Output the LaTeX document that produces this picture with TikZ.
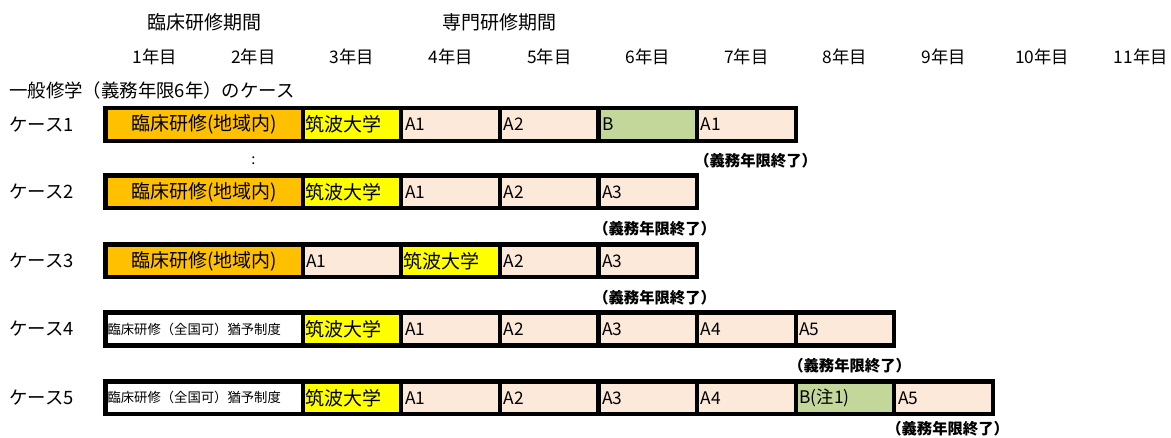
\documentclass[tikz,border=0pt]{standalone}
\usepackage{fontspec}
\setmainfont{Noto Sans CJK JP}
\definecolor{cOrange}{HTML}{FFC000}
\definecolor{cYellow}{HTML}{FFFF00}
\definecolor{cPeach}{HTML}{FDE9D9}
\definecolor{cGreen}{HTML}{C4D79B}
\begin{document}
\begin{tikzpicture}[x=0.75pt,y=-0.75pt,
  cellbase/.style={draw=black, line width=3.2pt, minimum height=24.6pt, inner ysep=0pt, anchor=center},
  acell/.style={cellbase, fill=cPeach, inner xsep=2.8pt, text width=68.35pt, align=left, font=\fontsize{13pt}{15pt}\selectfont},
  bcell/.style={acell, fill=cGreen},
  tcell/.style={cellbase, fill=cYellow, inner xsep=2pt, text width=69.95pt, align=left, font=\fontsize{14.25pt}{16pt}\selectfont},
  ocell/.style={cellbase, fill=cOrange, inner xsep=2.8pt, text width=142.3pt, align=center, font=\fontsize{14.25pt}{16pt}\selectfont},
  wcell/.style={cellbase, fill=white, inner xsep=1.5pt, text width=144.9pt, align=left, font=\fontsize{10pt}{12pt}\selectfont},
  head/.style={inner sep=0pt, font=\fontsize{14.25pt}{16pt}\selectfont},
  year/.style={inner sep=0pt, font=\fontsize{13pt}{15pt}\selectfont},
  case/.style={inner sep=0pt, anchor=west, font=\fontsize{13.8pt}{15pt}\selectfont},
  endlbl/.style={inner sep=0pt, anchor=west, font=\fontsize{11.5pt}{13pt}\selectfont\bfseries}]
\useasboundingbox (0,0) rectangle (1171,438);
% headers
\node[head] (h1) at (204.1,22.5) {臨床研修期間};
\node[head] (h2) at (499.9,22.5) {専門研修期間};
\node[year] (y1) at (154.8,57) {1年目};
\node[year] (y2) at (253.4,57) {2年目};
\node[year] (y3) at (352.0,57) {3年目};
\node[year] (y4) at (450.6,57) {4年目};
\node[year] (y5) at (549.2,57) {5年目};
\node[year] (y6) at (647.8,57) {6年目};
\node[year] (y7) at (746.4,57) {7年目};
\node[year] (y8) at (845.0,57) {8年目};
\node[year] (y9) at (943.6,57) {9年目};
\node[year] (y10) at (1042.2,57) {10年目};
\node[year] (y11) at (1140.8,57) {11年目};
\node[case] (title) at (9,90.5) {一般修学（義務年限6年）のケース};
% case 1
\node[case] (k1) at (9,124.3) {ケース1};
\node[ocell] (r1a) at (204.1,124.3) {臨床研修(地域内)};
\node[tcell] (r1b) at (352.0,124.3) {筑波大学};
\node[acell] (r1c) at (450.6,124.3) {A1};
\node[acell] (r1d) at (549.2,124.3) {A2};
\node[bcell] (r1e) at (647.8,124.3) {B};
\node[acell] (r1f) at (746.4,124.3) {A1};
\node[endlbl] (e1) at (694,161) {（義務年限終了）};
\node[inner sep=0pt, font=\fontsize{11pt}{13pt}\selectfont] (colon) at (253.5,161) {:};
% case 2
\node[case] (k2) at (9,191.9) {ケース2};
\node[ocell] (r2a) at (204.1,191.9) {臨床研修(地域内)};
\node[tcell] (r2b) at (352.0,191.9) {筑波大学};
\node[acell] (r2c) at (450.6,191.9) {A1};
\node[acell] (r2d) at (549.2,191.9) {A2};
\node[acell] (r2e) at (647.8,191.9) {A3};
\node[endlbl] (e2) at (593,228.6) {（義務年限終了）};
% case 3
\node[case] (k3) at (9,260.9) {ケース3};
\node[ocell] (r3a) at (204.1,260.9) {臨床研修(地域内)};
\node[acell] (r3b) at (352.0,260.9) {A1};
\node[tcell] (r3c) at (450.6,260.9) {筑波大学};
\node[acell] (r3d) at (549.2,260.9) {A2};
\node[acell] (r3e) at (647.8,260.9) {A3};
\node[endlbl] (e3) at (593,297.6) {（義務年限終了）};
% case 4
\node[case] (k4) at (9,329) {ケース4};
\node[wcell] (r4a) at (204.1,329) {臨床研修（全国可）猶予制度};
\node[tcell] (r4b) at (352.0,329) {筑波大学};
\node[acell] (r4c) at (450.6,329) {A1};
\node[acell] (r4d) at (549.2,329) {A2};
\node[acell] (r4e) at (647.8,329) {A3};
\node[acell] (r4f) at (746.4,329) {A4};
\node[acell] (r4g) at (845.0,329) {A5};
\node[endlbl] (e4) at (788,365.7) {（義務年限終了）};
% case 5
\node[case] (k5) at (9,397.9) {ケース5};
\node[wcell] (r5a) at (204.1,397.9) {臨床研修（全国可）猶予制度};
\node[tcell] (r5b) at (352.0,397.9) {筑波大学};
\node[acell] (r5c) at (450.6,397.9) {A1};
\node[acell] (r5d) at (549.2,397.9) {A2};
\node[acell] (r5e) at (647.8,397.9) {A3};
\node[acell] (r5f) at (746.4,397.9) {A4};
\node[bcell] (r5g) at (845.0,397.9) {B(注1)};
\node[acell] (r5h) at (943.6,397.9) {A5};
\node[endlbl] (e5) at (886,428.5) {（義務年限終了）};
\end{tikzpicture}
\end{document}
